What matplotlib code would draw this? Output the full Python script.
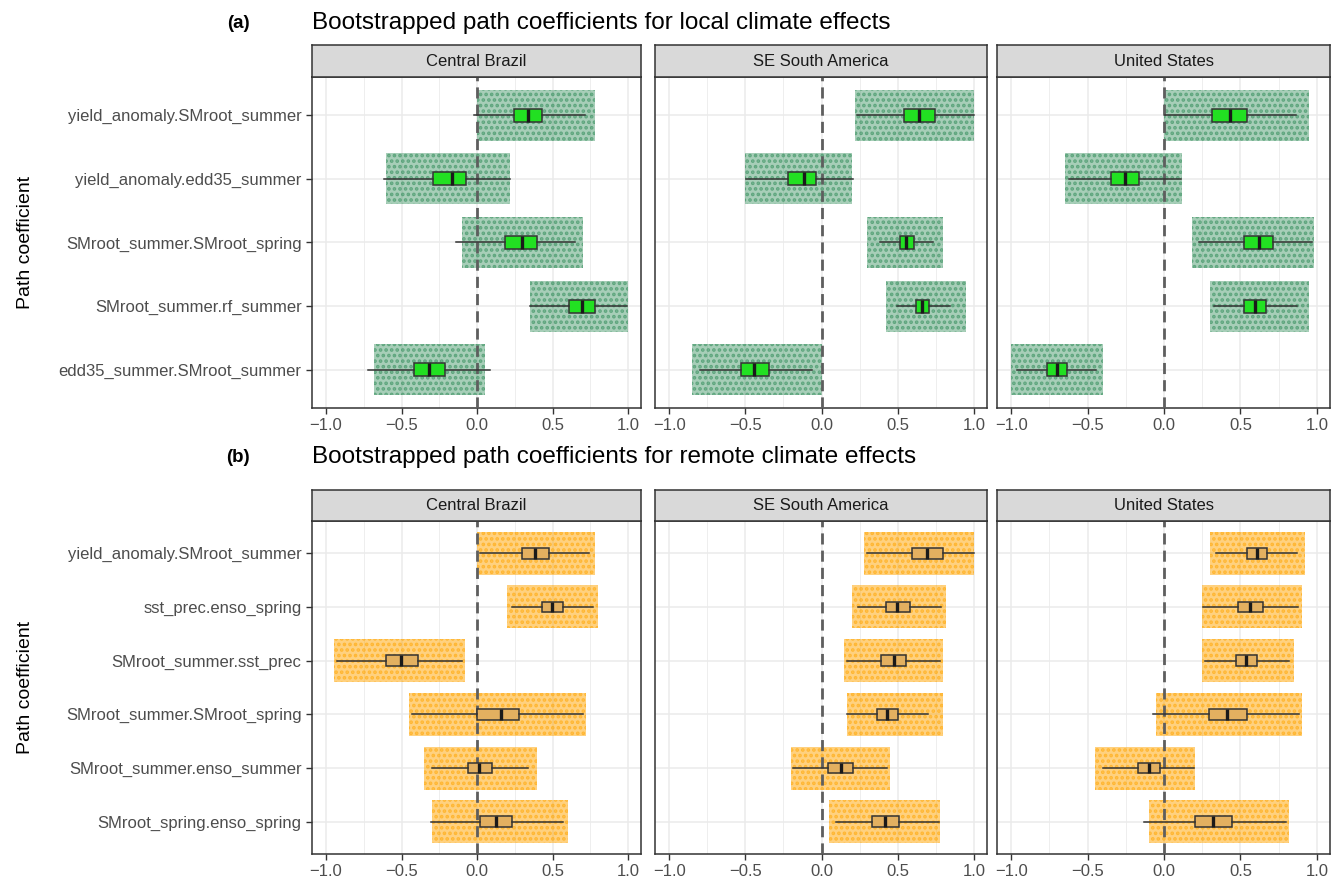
import matplotlib
matplotlib.use("Agg")
import matplotlib.pyplot as plt
from matplotlib.patches import Rectangle
import numpy as np

plt.rcParams['font.family'] = ['Liberation Sans', 'DejaVu Sans']
plt.rcParams['hatch.linewidth'] = 1.8

regions = ["Central Brazil", "SE South America", "United States"]

# (a) local climate effects
local_labels = ["yield_anomaly.SMroot_summer", "yield_anomaly.edd35_summer",
                "SMroot_summer.SMroot_spring", "SMroot_summer.rf_summer",
                "edd35_summer.SMroot_summer"]
local_wlo = [[-0.02, -0.615, -0.14, 0.35, -0.72],
             [0.233, -0.493, 0.382, 0.493, -0.80],
             [0.007, -0.625, 0.229, 0.326, -0.962]]
local_q1 = [[0.245, -0.29, 0.183, 0.607, -0.42],
            [0.538, -0.218, 0.516, 0.622, -0.529],
            [0.317, -0.35, 0.524, 0.526, -0.764]]
local_med = [[0.335, -0.163, 0.30, 0.697, -0.318],
             [0.642, -0.118, 0.556, 0.662, -0.44],
             [0.431, -0.257, 0.622, 0.592, -0.70]]
local_q3 = [[0.43, -0.073, 0.40, 0.783, -0.214],
            [0.747, -0.038, 0.604, 0.707, -0.344],
            [0.546, -0.165, 0.713, 0.667, -0.632]]
local_whi = [[0.715, 0.22, 0.65, 0.995, 0.086],
             [1.0, 0.207, 0.729, 0.844, -0.062],
             [0.865, 0.108, 0.97, 0.871, -0.442]]
local_cloud_lo = [[0.0, -0.6, -0.1, 0.35, -0.68],
                  [0.22, -0.5, 0.3, 0.42, -0.85],
                  [0.0, -0.65, 0.18, 0.3, -1.0]]
local_cloud_hi = [[0.78, 0.22, 0.7, 1.0, 0.05],
                  [1.0, 0.2, 0.8, 0.95, 0.0],
                  [0.95, 0.12, 0.98, 0.95, -0.4]]

# (b) remote climate effects
remote_labels = ["yield_anomaly.SMroot_summer", "sst_prec.enso_spring",
                 "SMroot_summer.sst_prec", "SMroot_summer.SMroot_spring",
                 "SMroot_summer.enso_summer", "SMroot_spring.enso_spring"]
remote_wlo = [[0.02, 0.234, -0.925, -0.428, -0.30, -0.307],
              [0.298, 0.238, 0.17, 0.166, -0.188, 0.093],
              [0.342, 0.256, 0.267, -0.071, -0.397, -0.13]]
remote_q1 = [[0.296, 0.433, -0.605, -0.002, -0.057, 0.02],
             [0.592, 0.426, 0.393, 0.364, 0.044, 0.331],
             [0.541, 0.486, 0.468, 0.294, -0.172, 0.201]]
remote_med = [[0.386, 0.494, -0.501, 0.161, 0.013, 0.126],
              [0.693, 0.497, 0.475, 0.43, 0.126, 0.419],
              [0.609, 0.565, 0.536, 0.415, -0.099, 0.32]]
remote_q3 = [[0.479, 0.57, -0.389, 0.278, 0.101, 0.234],
             [0.795, 0.579, 0.556, 0.505, 0.205, 0.508],
             [0.673, 0.647, 0.609, 0.541, -0.024, 0.442]]
remote_whi = [[0.74, 0.766, -0.097, 0.70, 0.336, 0.567],
              [1.0, 0.786, 0.78, 0.70, 0.43, 0.768],
              [0.87, 0.874, 0.819, 0.885, 0.194, 0.795]]
remote_cloud_lo = [[0.0, 0.2, -0.95, -0.45, -0.35, -0.3],
                   [0.28, 0.2, 0.15, 0.17, -0.2, 0.05],
                   [0.3, 0.25, 0.25, -0.05, -0.45, -0.1]]
remote_cloud_hi = [[0.78, 0.8, -0.08, 0.72, 0.4, 0.6],
                   [1.0, 0.82, 0.8, 0.8, 0.45, 0.78],
                   [0.92, 0.9, 0.85, 0.9, 0.2, 0.82]]

W, H = 1341, 880
fig = plt.figure(figsize=(W / 100, H / 100), dpi=100)

panel_x = [(312, 641), (655, 987), (997, 1330)]


def px_axes(x0, x1, y0, y1):
    return fig.add_axes([x0 / W, 1 - y1 / H, (x1 - x0) / W, (y1 - y0) / H])


def draw_row(labels, wlo, q1, med, q3, whi, clo, chi, top, bottom, strip_top,
             title_y, tag, title, pt_color, face_alpha, box_color):
    n = len(labels)
    ypos = np.arange(n)[::-1]
    fig.text(238 / W, 1 - title_y / H, tag, fontsize=13.5, fontweight='bold',
             ha='center', va='center')
    fig.text(312 / W, 1 - title_y / H, title, fontsize=17.5, ha='left', va='center')
    fig.text(26 / W, 1 - (top + bottom) / 2 / H, "Path coefficient", fontsize=14,
             rotation=90, ha='center', va='center')
    for j, (x0, x1) in enumerate(panel_x):
        ax = px_axes(x0, x1, top, bottom)
        ax.set_xlim(-1.093, 1.086)
        ax.set_ylim(-0.6, n - 0.4)
        ax.set_xticks([-1.0, -0.5, 0.0, 0.5, 1.0])
        ax.set_xticks([-0.75, -0.25, 0.25, 0.75], minor=True)
        ax.set_xticklabels(["\u22121.0", "\u22120.5", "0.0", "0.5", "1.0"])
        ax.tick_params(axis='both', which='major', labelsize=12, colors='#333333',
                       labelcolor='#4D4D4D', length=4, width=1.0)
        ax.tick_params(axis='x', which='minor', length=0)
        ax.grid(True, which='major', color='#EBEBEB', lw=1.1)
        ax.grid(True, which='minor', axis='x', color='#EBEBEB', lw=0.6)
        ax.set_axisbelow(True)
        for s in ax.spines.values():
            s.set_color('#333333')
            s.set_linewidth(1.1)

        # bootstrap clouds (jittered samples) shown as dotted bands
        for k in range(n):
            ax.add_patch(Rectangle((clo[j][k], ypos[k] - 0.4), chi[j][k] - clo[j][k], 0.8,
                                   facecolor=(*pt_color, face_alpha),
                                   edgecolor=(*pt_color, 0.6),
                                   hatch='...', lw=0, zorder=2))
        ax.axvline(0, color='#5E5E5E', lw=2.0, ls=(0, (4, 2.2)), zorder=3)

        stats = [dict(whislo=wlo[j][k], q1=q1[j][k], med=med[j][k], q3=q3[j][k],
                      whishi=whi[j][k], label=labels[k]) for k in range(n)]
        bp = ax.bxp(stats, positions=ypos, orientation='horizontal', widths=0.2,
                    patch_artist=True, showcaps=False, showfliers=False,
                    boxprops=dict(facecolor=box_color, edgecolor='#333333', lw=1.1),
                    medianprops=dict(color='#1A1A1A', lw=2.4),
                    whiskerprops=dict(color='#333333', lw=1.1), manage_ticks=False)
        for art in bp['boxes'] + bp['medians'] + bp['whiskers']:
            art.set_zorder(4)
        ax.set_yticks(ypos)
        if j == 0:
            ax.set_yticklabels(labels)
        else:
            ax.set_yticklabels([])
            ax.tick_params(axis='y', length=0)

        sax = px_axes(x0, x1, strip_top, top)
        sax.set_facecolor('#D9D9D9')
        sax.set_xticks([])
        sax.set_yticks([])
        for s in sax.spines.values():
            s.set_color('#333333')
            s.set_linewidth(1.1)
        sax.text(0.5, 0.5, regions[j], transform=sax.transAxes, ha='center',
                 va='center', fontsize=12, color='#1A1A1A')


draw_row(local_labels, local_wlo, local_q1, local_med, local_q3, local_whi,
         local_cloud_lo, local_cloud_hi, 77, 408, 45, 23, "(a)",
         "Bootstrapped path coefficients for local climate effects",
         (0.18, 0.545, 0.34), 0.42, '#22E022')
draw_row(remote_labels, remote_wlo, remote_q1, remote_med, remote_q3, remote_whi,
         remote_cloud_lo, remote_cloud_hi, 521, 854, 490, 457, "(b)",
         "Bootstrapped path coefficients for remote climate effects",
         (1.0, 0.647, 0.0), 0.5, '#E3B060')

fig.savefig("out.png", dpi=100)
